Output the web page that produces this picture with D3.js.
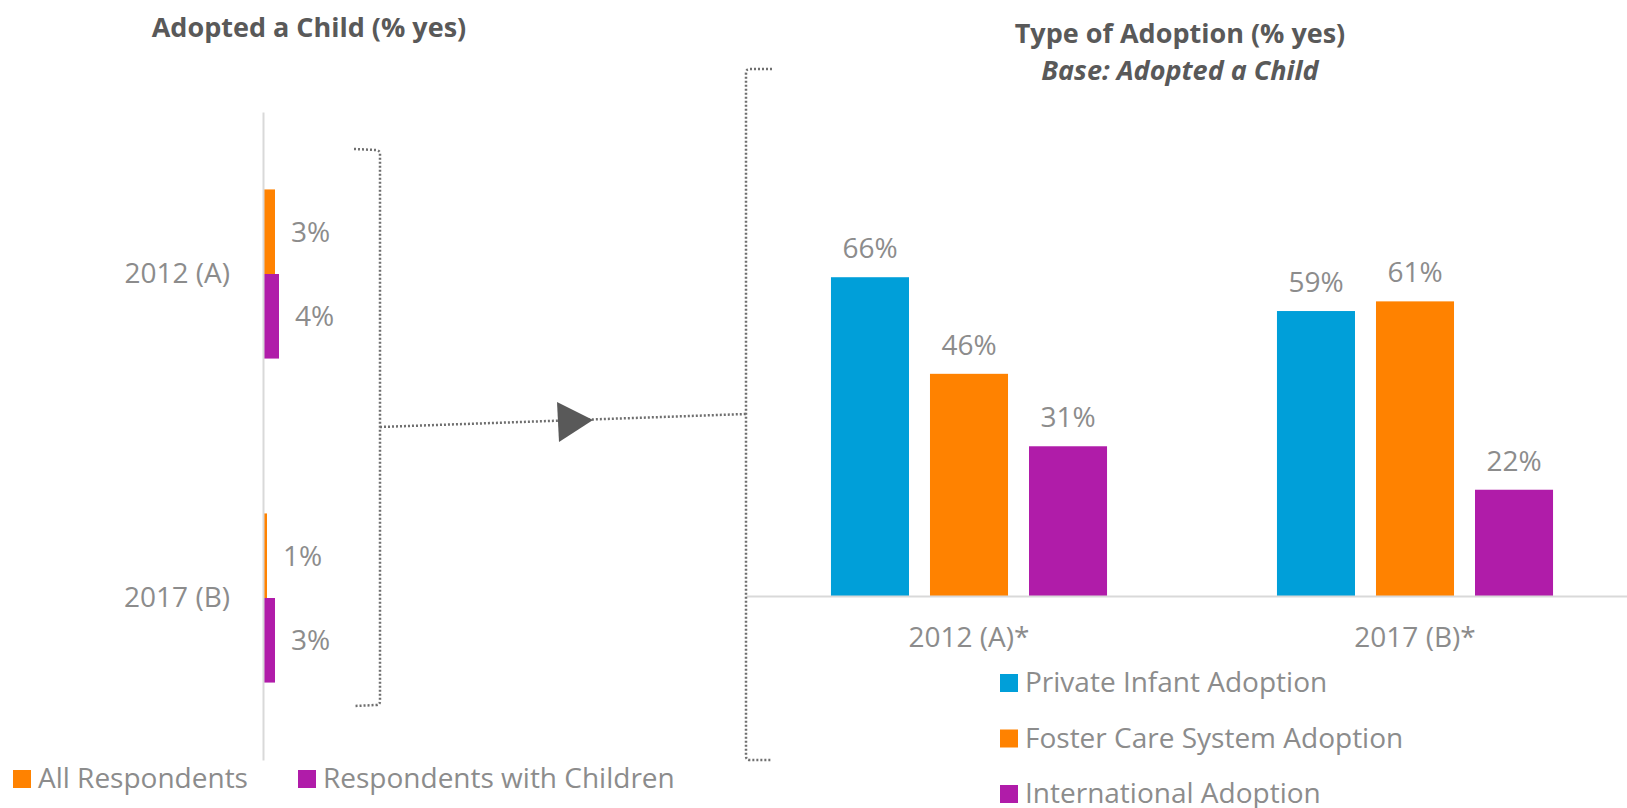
<!DOCTYPE html>
<html>
<head>
<meta charset="utf-8">
<script src="https://cdn.jsdelivr.net/npm/d3@7"></script>
<style>
  html, body { margin: 0; padding: 0; background: #ffffff; }
  svg { display: block; font-family: "Open Sans", "Noto Sans", sans-serif; }
</style>
</head>
<body>
<svg id="chart" width="1627" height="808"></svg>
<script>
// ---------- data ----------
const leftTitle = "Adopted a Child (% yes)";
const leftCategories = ["2012 (A)", "2017 (B)"];
const leftSeries = ["All Respondents", "Respondents with Children"];
const allRespondents = [3, 1];
const respondentsWithChildren = [4, 3];

const rightTitle = "Type of Adoption (% yes)";
const rightSubtitle = "Base: Adopted a Child";
const rightCategories = ["2012 (A)*", "2017 (B)*"];
const rightSeries = ["Private Infant Adoption", "Foster Care System Adoption", "International Adoption"];
const privateInfantAdoption = [66, 59];
const fosterCareSystemAdoption = [46, 61];
const internationalAdoption = [31, 22];

// ---------- styles ----------
const leftColors = ["#ff8200", "#b01ca9"];
const rightColors = ["#009fd9", "#ff8200", "#b01ca9"];
const labelColor = "#8c8c8c";
const titleColor = "#595959";
const axisColor = "#d9d9d9";
const dotColor = "#6f6f6f";
const titleSize = 27;
const fontSize = 28;

const svg = d3.select("#chart");

// ---------- left chart ----------
const leftValues = leftSeries.map((s, i) => i === 0 ? allRespondents : respondentsWithChildren);
const leftAxisX = 263;
const yL0 = d3.scaleBand().domain(leftCategories).range([112, 760]).paddingInner(0.478).paddingOuter(0.239);
const yL1 = d3.scaleBand().domain(leftSeries).range([0, yL0.bandwidth()]).padding(0);
const xL = d3.scaleLinear().domain([0, 100]).range([leftAxisX, leftAxisX + 400]);

svg.append("text")
  .attr("x", 309).attr("y", 37)
  .attr("text-anchor", "middle")
  .attr("font-size", titleSize).attr("font-weight", "bold")
  .attr("fill", titleColor)
  .text(leftTitle);

const leftG = svg.append("g");
leftCategories.forEach((cat, ci) => {
  leftSeries.forEach((s, si) => {
    const v = leftValues[si][ci];
    const y = yL0(cat) + yL1(s);
    leftG.append("rect")
      .attr("x", xL(0)).attr("y", y)
      .attr("width", xL(v) - xL(0)).attr("height", yL1.bandwidth())
      .attr("fill", leftColors[si]);
    leftG.append("text")
      .attr("x", xL(v) + 16).attr("y", y + yL1.bandwidth() / 2)
      .attr("dy", "0.36em")
      .attr("font-size", fontSize).attr("fill", labelColor)
      .text(v + "%");
  });
});

const leftAxis = svg.append("g")
  .attr("transform", `translate(${leftAxisX},0)`)
  .call(d3.axisLeft(yL0).tickSize(0).tickPadding(33));
leftAxis.select(".domain").attr("stroke", axisColor).attr("stroke-width", 2);
leftAxis.selectAll("text")
  .attr("font-size", fontSize).attr("fill", labelColor)
  .attr("font-family", "'Open Sans', sans-serif")
  .attr("dy", "0.33em");

// left legend
const leftLegendX = [13, 298];
leftSeries.forEach((s, i) => {
  svg.append("rect").attr("x", leftLegendX[i]).attr("y", 770).attr("width", 18).attr("height", 18).attr("fill", leftColors[i]);
  svg.append("text").attr("x", leftLegendX[i] + 25).attr("y", 788)
    .attr("font-size", fontSize).attr("fill", labelColor).text(s);
});

// ---------- right chart ----------
const rightValues = [privateInfantAdoption, fosterCareSystemAdoption, internationalAdoption];
const xR0 = d3.scaleBand().domain(rightCategories).range([746, 1638]).paddingInner(0.381).paddingOuter(0.1905);
const xR1 = d3.scaleBand().domain(rightSeries).range([0, xR0.bandwidth()]).paddingInner(0.212).paddingOuter(0);
const yR = d3.scaleLinear().domain([0, 100]).range([596, 113]);

svg.append("text")
  .attr("x", 1180).attr("y", 43)
  .attr("text-anchor", "middle")
  .attr("font-size", titleSize).attr("font-weight", "bold")
  .attr("fill", titleColor)
  .text(rightTitle);
svg.append("text")
  .attr("x", 1180).attr("y", 80)
  .attr("text-anchor", "middle")
  .attr("font-size", titleSize).attr("font-weight", "bold").attr("font-style", "italic")
  .attr("fill", titleColor)
  .text(rightSubtitle);

const rightG = svg.append("g");
rightCategories.forEach((cat, ci) => {
  rightSeries.forEach((s, si) => {
    const v = rightValues[si][ci];
    const x = xR0(cat) + xR1(s);
    rightG.append("rect")
      .attr("x", x).attr("y", yR(v))
      .attr("width", xR1.bandwidth()).attr("height", yR(0) - yR(v))
      .attr("fill", rightColors[si]);
    rightG.append("text")
      .attr("x", x + xR1.bandwidth() / 2).attr("y", yR(v) - 19)
      .attr("text-anchor", "middle")
      .attr("font-size", fontSize).attr("fill", labelColor)
      .text(v + "%");
  });
});

const rightAxis = svg.append("g")
  .attr("transform", `translate(0,${yR(0)})`)
  .call(d3.axisBottom(xR0).tickSize(0).tickSizeOuter(0));
rightAxis.select(".domain").attr("stroke", axisColor).attr("stroke-width", 2);
rightAxis.selectAll("text")
  .attr("font-size", fontSize).attr("fill", labelColor)
  .attr("font-family", "'Open Sans', sans-serif")
  .attr("y", 51).attr("dy", 0);

// right legend
rightSeries.forEach((s, i) => {
  const y0 = 674 + i * 55.5;
  svg.append("rect").attr("x", 1000).attr("y", y0).attr("width", 18).attr("height", 18).attr("fill", rightColors[i]);
  svg.append("text").attr("x", 1025).attr("y", y0 + 18)
    .attr("font-size", fontSize).attr("fill", labelColor).text(s);
});

// ---------- brackets & connector ----------
const dotted = g => g.attr("fill", "none").attr("stroke", dotColor).attr("stroke-width", 2.5).attr("stroke-dasharray", "2 2");
svg.append("path")
  .attr("d", "M354,149 L376,150 Q380,150.5 380,154 L380,701 Q380,705 376,705 L354,706")
  .call(dotted);
svg.append("path")
  .attr("d", "M772,69 L750,69 Q746,69 746,73 L746,756 Q746,760 750,760 L772,760")
  .call(dotted);
svg.append("path")
  .attr("d", "M380,427 L746,414")
  .call(dotted);
svg.append("path")
  .attr("d", "M557,402 L593,420 L559,442 Z")
  .attr("fill", "#595959");
</script>
</body>
</html>
